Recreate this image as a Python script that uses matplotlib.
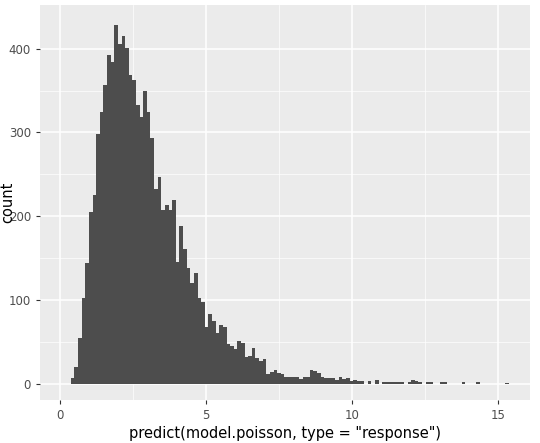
import matplotlib
matplotlib.use("Agg")
import matplotlib.pyplot as plt
import numpy as np

bin_start = 0.375
bin_width = 0.124
counts = [7,20,55,103,144,205,226,298,324,357,392,384,428,406,415,401,369,363,333,319,
          350,325,294,233,247,207,213,207,220,146,
          189,161,138,120,133,103,98,68,84,75,61,70,68,48,45,42,51,49,32,33,43,31,27,30,
          12,14,17,13,12,8,8,8,8,6,8,8,17,
          15,13,8,7,7,7,5,8,6,7,4,5,4,4,0,4,0,5,0,3,3,3,3,3,3,0,3,5,4,2,0,2,2,0,0,2,3,
          0,0,0,0,2,0,0,0,2,0,0,0,0,0,0,0,1]
x_ticks = [0, 5, 10, 15]
y_ticks = [0, 100, 200, 300, 400]

edges = bin_start + bin_width * np.arange(len(counts) + 1)

fig = plt.figure(figsize=(5.4, 4.43), dpi=100)
ax = fig.add_axes([40/540, 43/443, 490/540, 395/443])
ax.set_facecolor("#EBEBEB")
ax.stairs(counts, edges, fill=True, color="#4D4D4D", linewidth=0)
ax.set_xlim(-0.68, 16.1)
ax.set_ylim(-19, 452)
ax.set_xticks(x_ticks)
ax.set_yticks(y_ticks)
ax.set_xticks([2.5, 7.5, 12.5], minor=True)
ax.set_yticks([50, 150, 250, 350], minor=True)
ax.grid(True, which="major", color="white", linewidth=1.1)
ax.grid(True, which="minor", color="white", linewidth=0.5)
ax.set_axisbelow(True)
for s in ax.spines.values():
    s.set_visible(False)
ax.tick_params(which="major", colors="#333333", labelsize=8.5, length=3, labelcolor="#4D4D4D")
ax.tick_params(which="minor", length=0)
ax.set_xlabel('predict(model.poisson, type = "response")', fontsize=10.5, labelpad=3)
ax.set_ylabel("count", fontsize=10.5)
ax.yaxis.set_label_coords(-0.05, 0.5)
fig.savefig("out.png", dpi=100)
